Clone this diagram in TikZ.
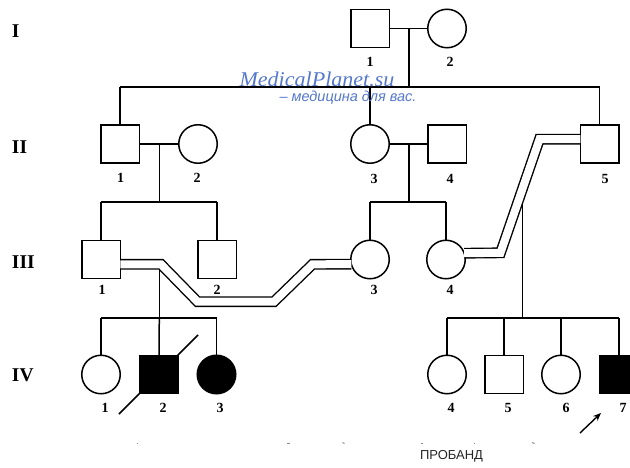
\documentclass[tikz,border=0pt]{standalone}
\usepackage{fontspec}
\setmainfont{Liberation Serif}
\newfontfamily\wmsans{Liberation Sans}
\usetikzlibrary{shapes.geometric,arrows.meta}
\definecolor{wmblue}{RGB}{85,120,205}
\begin{document}
\begin{tikzpicture}[x=1pt,y=-1pt,
  every node/.style={inner sep=0pt, outer sep=0pt},
  male/.style={draw, rectangle, minimum width=38.5pt, minimum height=38pt, line width=1.5pt},
  female/.style={draw, ellipse, minimum width=38.5pt, minimum height=38.5pt, line width=1.5pt},
  aff/.style={fill=black},
  num/.style={font=\bfseries\fontsize{14}{14}\selectfont},
  genlab/.style={font=\bfseries\fontsize{19.5}{19.5}\selectfont, anchor=west},
  ln/.style={line width=1.5pt},
  cons/.style={draw, line width=1.4pt, double distance=8pt},
  tick/.style={line width=1pt, black!45},
]
\path[use as bounding box] (0,0) rectangle (630,468);
\clip (0,0) rectangle (630,468);
\fill[white] (0,0) rectangle (630,468);

% generation labels
\node[genlab] (gI)   at (12,31)    {I};
\node[genlab] (gII)  at (12,147)   {II};
\node[genlab] (gIII) at (12,262)   {III};
\node[genlab] (gIV)  at (12,375)   {IV};

% generation I
\node[male]   (I1) at (370,28.5) {};
\node[female] (I2) at (447,28.5) {};
\node[num] (lI1) at (370,62) {1};
\node[num] (lI2) at (450,62) {2};

% generation II
\node[male]   (II1) at (120,144) {};
\node[female] (II2) at (198,144) {};
\node[female] (II3) at (370,144) {};
\node[male]   (II4) at (447,144) {};
\node[male]   (II5) at (599.5,144) {};
\node[num] (lII1) at (120.5,178) {1};
\node[num] (lII2) at (197,178) {2};
\node[num] (lII3) at (374,179) {3};
\node[num] (lII4) at (450,179) {4};
\node[num] (lII5) at (605,179) {5};

% generation III
\node[male]   (III1) at (101,259.5) {};
\node[male]   (III2) at (217,259.5) {};
\node[female] (III3) at (370,259.5) {};
\node[female] (III4) at (446,259.5) {};
\node[num] (lIII1) at (102,290) {1};
\node[num] (lIII2) at (217,290) {2};
\node[num] (lIII3) at (374,290) {3};
\node[num] (lIII4) at (450,290) {4};

% generation IV
\node[female]     (IV1) at (101,374.5) {};
\node[male,aff]   (IV2) at (159,374.5) {};
\node[female,aff] (IV3) at (216.5,374.5) {};
\node[female]     (IV4) at (447,374.5) {};
\node[male]       (IV5) at (504,374.5) {};
\node[female]     (IV6) at (561,374.5) {};
\node[male,aff]   (IV7) at (619,374.5) {};
\node[num] (lIV1) at (105,408) {1};
\node[num] (lIV2) at (163,408) {2};
\node[num] (lIV3) at (220,408) {3};
\node[num] (lIV4) at (451,408) {4};
\node[num] (lIV5) at (508,408) {5};
\node[num] (lIV6) at (566,408) {6};
\node[num] (lIV7) at (623,408) {7};

% coordinates for line routing
\coordinate (mI)   at (409,28.5);
\coordinate (sI)   at (409,87);
\coordinate (sIL)  at (120,87);
\coordinate (sIM)  at (370,87);
\coordinate (sIR)  at (599.5,87);

\coordinate (mII1) at (159.5,144);
\coordinate (sII1) at (159.5,202);
\coordinate (sII1L) at (101,202);
\coordinate (sII1R) at (217,202);
\coordinate (mII3) at (409,144);
\coordinate (sII3) at (409,202);
\coordinate (sII3L) at (370,202);
\coordinate (sII3R) at (446,202);

% consanguineous marriage paths
\coordinate (cA1) at (161,264.3);
\coordinate (cA2) at (197.5,301.7);
\coordinate (cA3) at (274,301.7);
\coordinate (cA4) at (312.5,264.3);
\coordinate (cB1) at (539.5,139.2);
\coordinate (cB2) at (500.5,252.8);

\coordinate (dA)  at (159.3,265);
\coordinate (sA)  at (159.3,318);
\coordinate (sAL) at (101,318);
\coordinate (sAR) at (216.5,318);
\coordinate (dB)  at (522.7,200);
\coordinate (sB)  at (522.7,318);
\coordinate (sBL) at (447,318);
\coordinate (sBR) at (619,318);

% gen I connections
\draw[ln] (I1.east |- mI) -- (I2.west |- mI);
\draw[ln] (mI) -- (sI);
\draw[ln] (sIL) -- (sIR);
\draw[ln] (sIL) -- (II1.north);
\draw[ln] (sIM) -- (II3.north);
\draw[ln] (sIR) -- (II5.north);

% gen II connections
\draw[ln] (II1.east) -- (II2.west);
\draw[ln] (mII1) -- (sII1);
\draw[ln] (sII1L) -- (sII1R);
\draw[ln] (sII1L) -- (III1.north);
\draw[ln] (sII1R) -- (III2.north);
\draw[ln] (II3.east) -- (II4.west);
\draw[ln] (mII3) -- (sII3);
\draw[ln] (sII3L) -- (sII3R);
\draw[ln] (sII3L) -- (III3.north);
\draw[ln] (sII3R) -- (III4.north);

% descent lines (drawn under the double lines)
\draw[ln] (dA) -- (sA);
\draw[ln] (dB) -- (sB);

% consanguineous marriages
\draw[cons] (III1.east |- cA1) -- (cA1) -- (cA2) -- (cA3) -- (cA4) -- (III3.194);
\draw[cons] (II5.west |- cB1) -- (cB1) -- (cB2) -- (III4.19);

% sibships gen IV
\draw[ln] (sAL) -- (sAR);
\draw[ln] (sAL) -- (IV1.north);
\draw[ln] (sA) -- (IV2.north);
\draw[ln] (sAR) -- (IV3.north);
\draw[ln] (sBL) -- (sBR);
\draw[ln] (sBL) -- (IV4.north);
\draw[ln] (IV5.north |- sB) -- (IV5.north);
\draw[ln] (IV6.north |- sB) -- (IV6.north);
\draw[ln] (sBR) -- (IV7.north);

% deceased slash
\coordinate (dz1) at (119,414);
\coordinate (dz2) at (198,335);
\draw[ln] (dz1) -- (dz2);

% proband arrow
\coordinate (pa1) at (580,433);
\coordinate (pa2) at (601,413);
\draw[line width=1.4pt, -{Stealth[length=8pt,width=6.5pt]}] (pa1) -- (pa2);
\node[font=\wmsans\fontsize{13}{13}\selectfont, text=black!85] (prob) at (451.5,456.5) {ПРОБАНД};

% small marks
\draw[tick] (136.5,443) -- (137.5,443);
\draw[tick] (286.5,443) -- (289.5,443);
\draw[tick] (342.5,442.5) -- (344.5,443.5);
\draw[tick] (421,443) -- (422.5,443);
\draw[tick] (473.5,443) -- (475,443);
\draw[tick] (532,442.5) -- (534.5,443.5);

% watermark
\node[font=\itshape\fontsize{21}{21}\selectfont, text=wmblue, xscale=1.05] (wm1) at (317,79) {MedicalPlanet.su};
\node[font=\wmsans\itshape\fontsize{14.5}{14.5}\selectfont, text=wmblue] (wm2) at (348,97.5) {– медицина для вас.};
\end{tikzpicture}
\end{document}
